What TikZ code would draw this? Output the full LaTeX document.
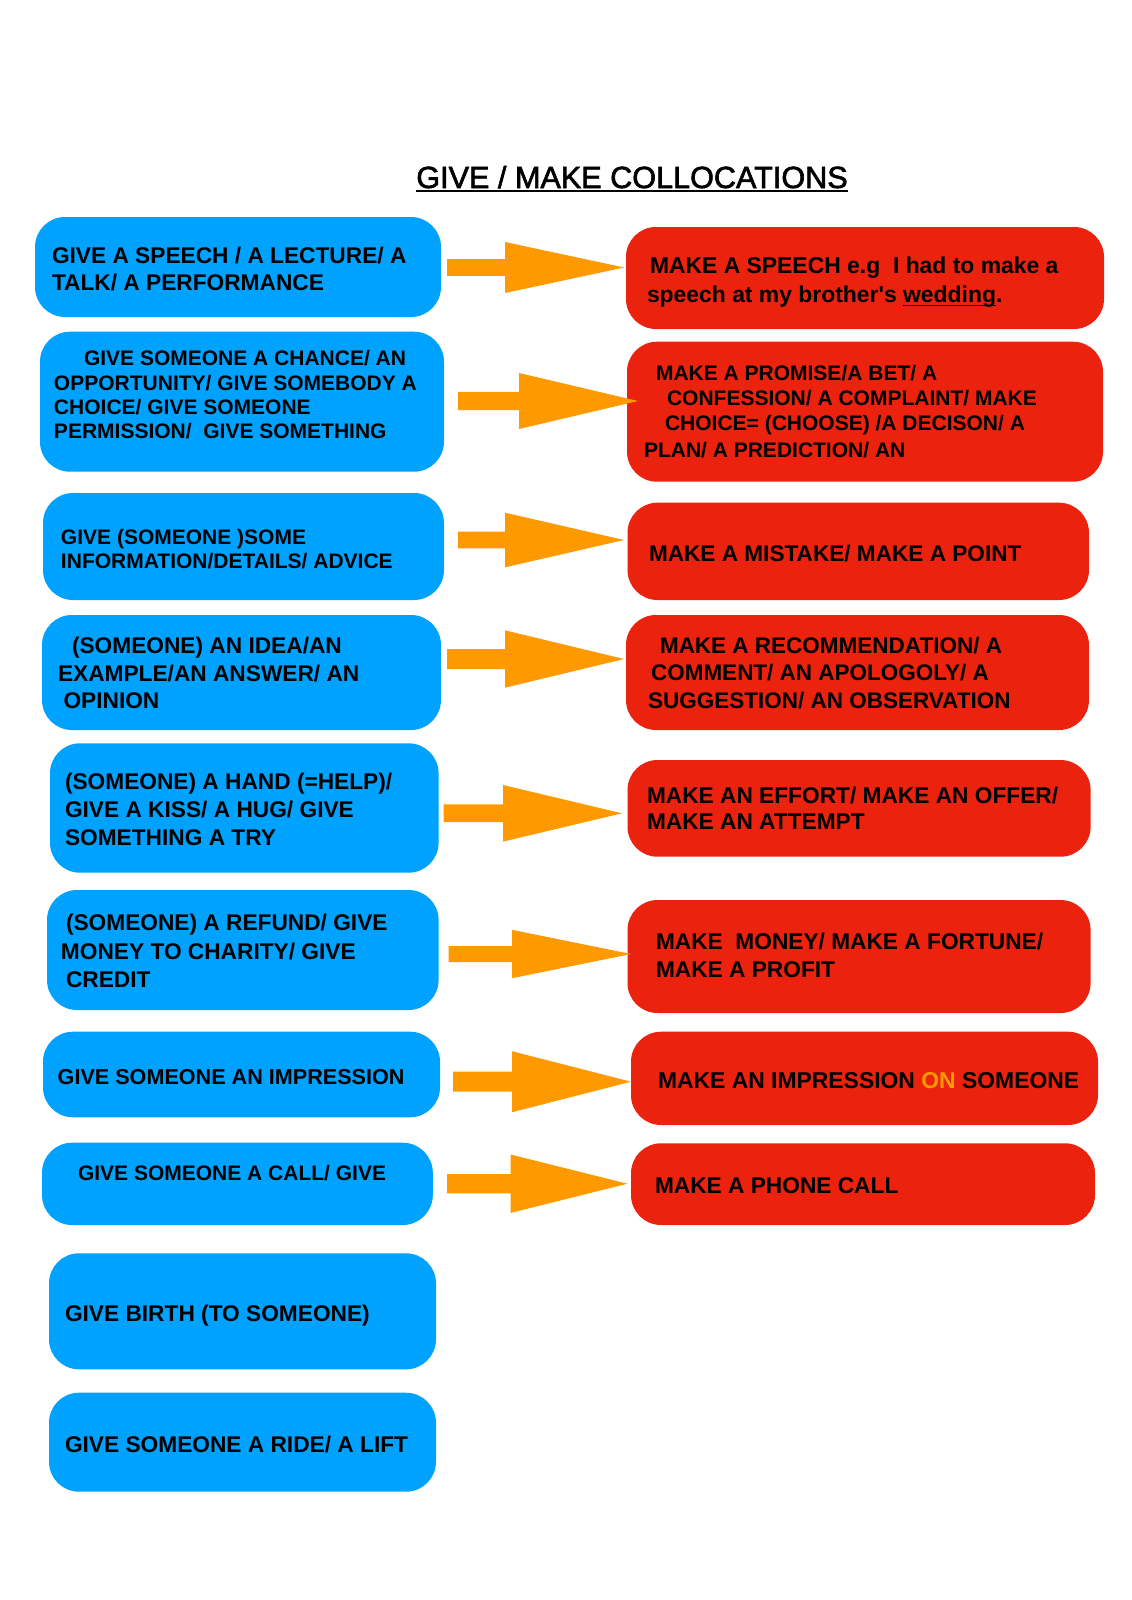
\documentclass[tikz,border=0pt]{standalone}
\usepackage{fontspec}
\setmainfont{Liberation Sans}[Ligatures=TeXOff]
\newfontfamily\titlefont{Liberation Sans}[FakeBold=2]
\definecolor{gblue}{RGB}{0,162,255}
\definecolor{mred}{RGB}{235,35,14}
\definecolor{orng}{RGB}{255,153,0}
\newcommand\myul[1]{\leavevmode\setbox0=\hbox{#1}\rlap{\rule[-1.8pt]{\wd0}{0.9pt}}\box0}
\newcommand\mkbox[6]{% name, x1, y1, x2, y2, style
  \pgfmathsetmacro\bw{(#4-#2)*0.5}\pgfmathsetmacro\bh{(#5-#3)*0.5}%
  \node[#6, minimum width=\bw pt, minimum height=\bh pt] (#1) at ({(#2+#4)/2},{(#3+#5)/2}) {};}
\newcommand\tline[5]{% name, x, ycenter, size px, text
  \pgfmathsetmacro\tlb{#3+0.358*#4}\pgfmathsetmacro\tlf{#4*0.5}%
  \node[lbl, font=\fontsize{\tlf pt}{\tlf pt}\selectfont\bfseries] (#1) at (#2,\tlb) {#5};}
\newcommand\barrow[6]{% x1, x2, xtip, yc, shaft half, head half
  \fill[orng] (#1,#4-#5) -- (#2,#4-#5) -- (#2,#4-#6) -- (#3,#4) -- (#2,#4+#6) -- (#2,#4+#5) -- (#1,#4+#5) -- cycle;}
\begin{document}
\begin{tikzpicture}[x=0.5pt,y=-0.5pt,
  box/.style={rounded corners=15pt, inner sep=0pt, outer sep=0pt, draw=none},
  gbox/.style={box, fill=gblue},
  mbox/.style={box, fill=mred},
  lbl/.style={anchor=base west, inner sep=0pt, outer sep=0pt, text=black}]
\fill[white] (0,0) rectangle (1131,1600);
\useasboundingbox (0,0) rectangle (1131,1600);

% title
\node[anchor=base, inner sep=0pt, font=\titlefont\fontsize{15.3pt}{15.3pt}\selectfont] (title) at (632,188) {GIVE / MAKE COLLOCATIONS};
\draw[line width=1.2pt] ([yshift=-1.5pt]title.base west) -- ([yshift=-1.5pt]title.base east);

% boxes
\mkbox{b1}{35}{217}{441}{317}{gbox}
\mkbox{r1}{626}{227}{1104}{329}{mbox}
\mkbox{b2}{40}{331.7}{444}{471.7}{gbox}
\mkbox{r2}{627}{341.7}{1103}{481.7}{mbox}
\mkbox{b3}{43}{493}{444}{600}{gbox}
\mkbox{r3}{627.5}{502.7}{1089}{600}{mbox}
\mkbox{b4}{42}{615}{441}{730}{gbox}
\mkbox{r4}{626}{615}{1089}{730}{mbox}
\mkbox{b5}{50}{743.3}{438.6}{872.7}{gbox}
\mkbox{r5}{627.5}{760}{1090.6}{856.7}{mbox}
\mkbox{b6}{47}{890}{438.6}{1010}{gbox}
\mkbox{r6}{627.5}{900}{1090.6}{1013}{mbox}
\mkbox{b7}{43}{1031.7}{440}{1117.3}{gbox}
\mkbox{r7}{631}{1031.7}{1098}{1125}{mbox}
\mkbox{b8}{42}{1142.7}{432.8}{1225}{gbox}
\mkbox{r8}{631}{1143.3}{1095}{1225}{mbox}
\mkbox{b9}{49}{1253.3}{436}{1369.3}{gbox}
\mkbox{b10}{49}{1392.7}{436}{1491.7}{gbox}

% arrows
\barrow{447}{505}{624}{267.5}{8.3}{25.5}
\barrow{458}{519}{638}{401}{9.2}{28}
\barrow{458}{505}{624}{540}{8.3}{27.3}
\barrow{447}{505}{624}{659}{10}{28.7}
\barrow{443.6}{503}{622}{813.3}{8.9}{28.3}
\barrow{448.6}{512}{631}{954}{8}{24.2}
\barrow{453}{512}{631}{1081.7}{10}{30.5}
\barrow{447}{510.7}{627.5}{1183.7}{9.7}{29.2}

% texts
\tline{t1a}{52}{255}{22.7}{GIVE A SPEECH / A LECTURE/ A}
\tline{t1b}{52}{282.7}{22.7}{TALK/ A PERFORMANCE}
\tline{u1a}{650}{265}{22.9}{MAKE A SPEECH e.g\ \ I had to make a}
\tline{u1b}{647}{294.5}{22.9}{speech at my brother's \myul{wedding}.}

\tline{t2a}{84}{358}{21}{GIVE SOMEONE A CHANCE/ AN}
\tline{t2b}{54}{383}{21}{OPPORTUNITY/ GIVE SOMEBODY A}
\tline{t2c}{54}{407}{21}{CHOICE/ GIVE SOMEONE}
\tline{t2d}{54}{431}{21}{PERMISSION/\ \ GIVE SOMETHING}
\tline{u2a}{656}{373}{21}{MAKE A PROMISE/A BET/ A}
\tline{u2b}{667}{398}{21}{CONFESSION/ A COMPLAINT/ MAKE}
\tline{u2c}{665}{423}{21}{CHOICE= (CHOOSE) /A DECISON/ A}
\tline{u2d}{644}{450}{21}{PLAN/ A PREDICTION/ AN}

\tline{t3a}{61}{537.3}{21}{GIVE (SOMEONE )SOME}
\tline{t3b}{61}{561}{21}{INFORMATION/DETAILS/ ADVICE}
\tline{u3a}{649}{553}{22.6}{MAKE A MISTAKE/ MAKE A POINT}

\tline{t4a}{72}{645}{22.7}{(SOMEONE) AN IDEA/AN}
\tline{t4b}{58}{673.3}{22.7}{EXAMPLE/AN ANSWER/ AN}
\tline{t4c}{63.5}{700}{22.7}{OPINION}
\tline{u4a}{660}{645}{22.5}{MAKE A RECOMMENDATION/ A}
\tline{u4b}{651}{672.7}{22.5}{COMMENT/ AN APOLOGOLY/ A}
\tline{u4c}{648}{700}{22.5}{SUGGESTION/ AN OBSERVATION}

\tline{t5a}{65}{781.7}{22.7}{(SOMEONE) A HAND (=HELP)/}
\tline{t5b}{65}{809.3}{22.7}{GIVE A KISS/ A HUG/ GIVE}
\tline{t5c}{65}{837.3}{22.7}{SOMETHING A TRY}
\tline{u5a}{647}{795}{22.7}{MAKE AN EFFORT/ MAKE AN OFFER/}
\tline{u5b}{647}{821.7}{22.7}{MAKE AN ATTEMPT}

\tline{t6a}{66}{922.7}{22.7}{(SOMEONE) A REFUND/ GIVE}
\tline{t6b}{61}{951.7}{22.7}{MONEY TO CHARITY/ GIVE}
\tline{t6c}{66}{979.3}{22.7}{CREDIT}
\tline{u6a}{656}{941.7}{22.7}{MAKE\ \ MONEY/ MAKE A FORTUNE/}
\tline{u6b}{656}{969.3}{22.7}{MAKE A PROFIT}

\tline{t7a}{57.7}{1076.7}{21.6}{GIVE SOMEONE AN IMPRESSION}
\tline{u7a}{658}{1080.7}{22.9}{MAKE AN IMPRESSION \textcolor{orng}{ON} SOMEONE}

\tline{t8a}{78}{1172.7}{21}{GIVE SOMEONE A CALL/ GIVE}
\tline{u8a}{655}{1185}{22.7}{MAKE A PHONE CALL}

\tline{t9a}{65}{1313.3}{22.7}{GIVE BIRTH (TO SOMEONE)}
\tline{t10a}{65}{1444}{22.7}{GIVE SOMEONE A RIDE/ A LIFT}
\end{tikzpicture}
\end{document}
